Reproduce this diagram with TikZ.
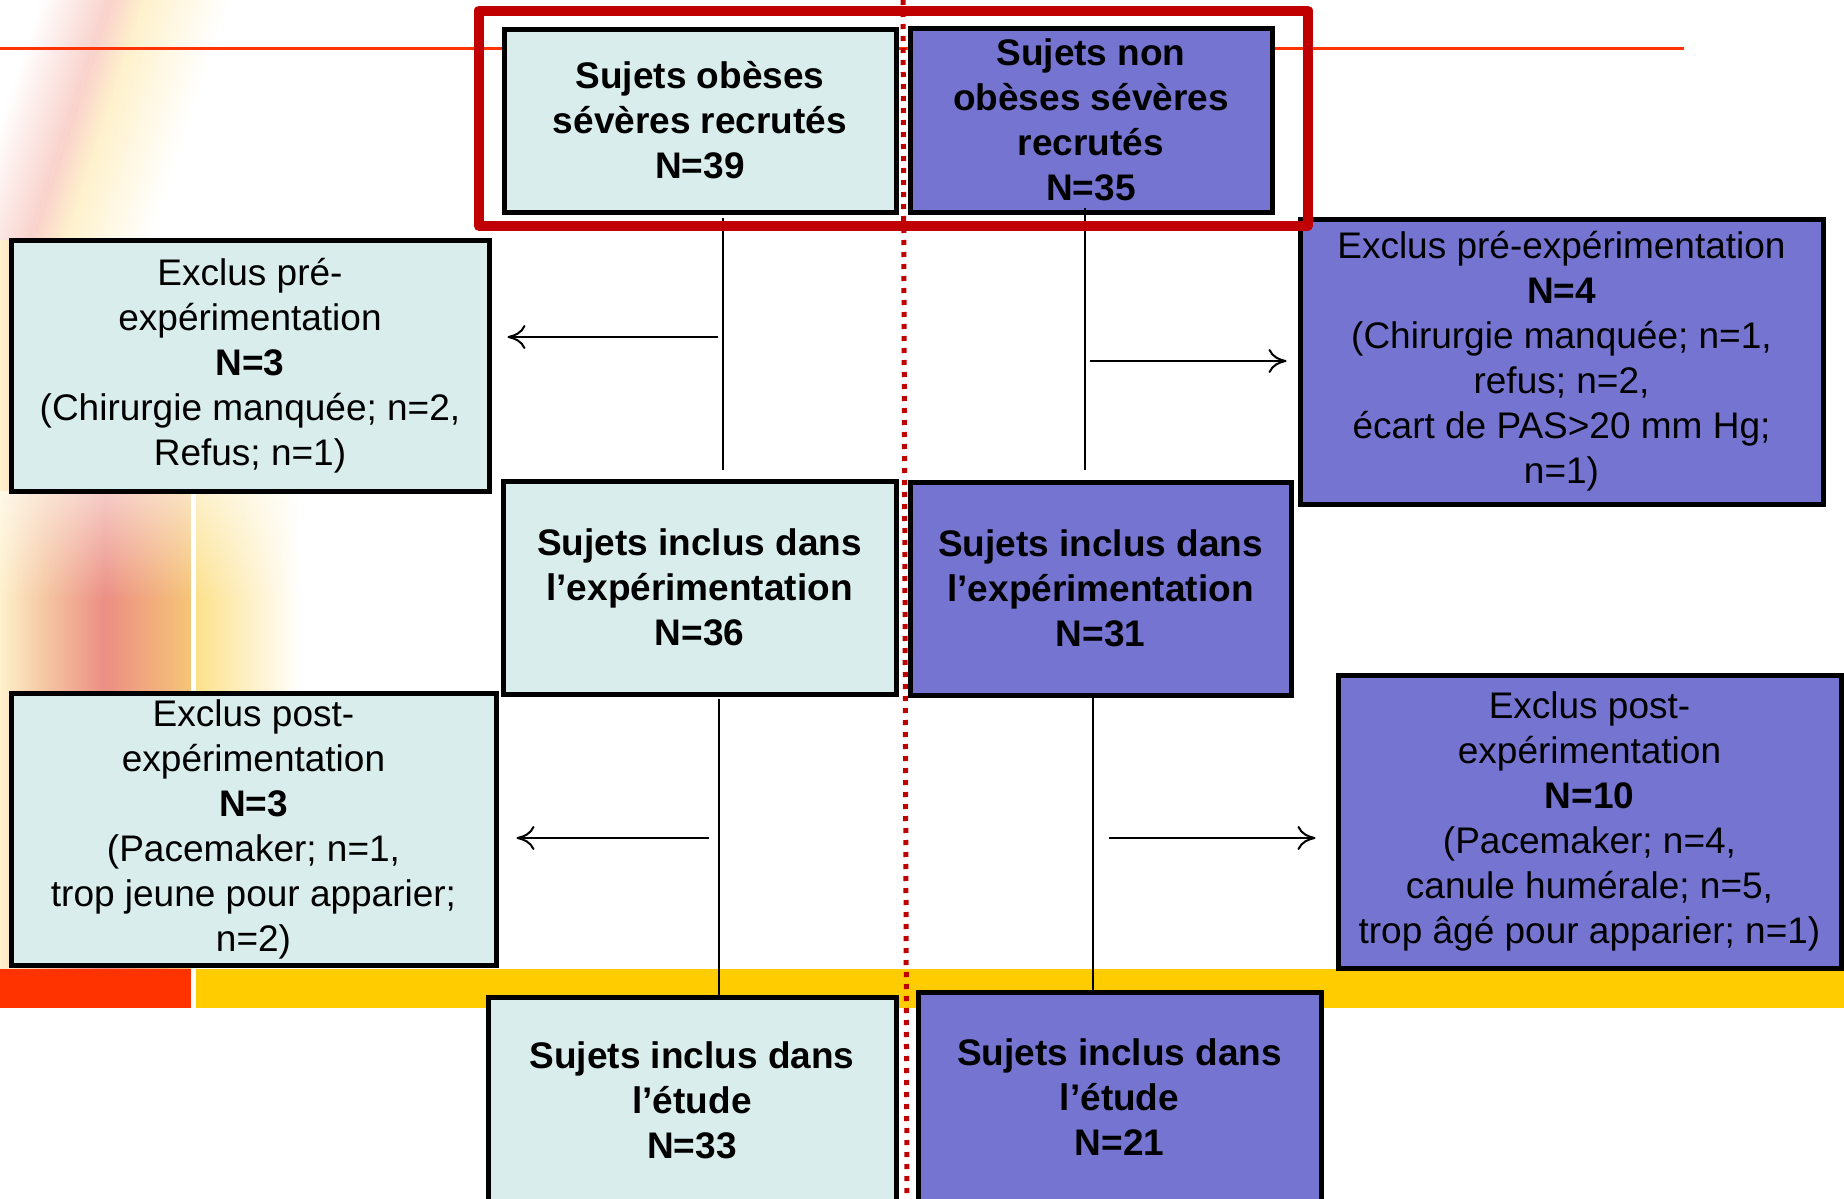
\documentclass[tikz,border=0pt]{standalone}
\usepackage{fontspec}
\setmainfont{Liberation Sans}
\usetikzlibrary{arrows.meta,fadings}

\definecolor{boxblue}{HTML}{DAEDED}
\definecolor{boxviolet}{HTML}{7575D1}
\definecolor{frameRed}{HTML}{C00000}
\definecolor{lineOrange}{HTML}{FF3300}
\definecolor{bandYellow}{HTML}{FFCC00}
\definecolor{bgPink}{HTML}{F9D2CC}
\definecolor{bgCream}{HTML}{FEF1CC}
\definecolor{bgPeach}{HTML}{F5C6A2}
\definecolor{bgSalmon}{HTML}{EC8E84}
\definecolor{bgRose}{HTML}{EDA996}
\definecolor{bgAmber}{HTML}{F6C677}
\definecolor{bgLemon}{HTML}{FCE088}

\tikzfading[name=fadetop, top color=transparent!45, bottom color=transparent!100]

\tikzset{
  flowbox/.style={draw=black, line width=2.5pt, inner sep=0pt, align=center,
    font=\fontsize{18.5}{22.5}\selectfont},
  heavy/.style={font=\fontsize{18.5}{22.5}\selectfont\bfseries},
  obese/.style={flowbox, fill=boxblue},
  lean/.style={flowbox, fill=boxviolet},
  link/.style={line width=0.8pt},
  exclarrow/.style={line width=1pt, -{To[length=9pt,width=12pt]}},
}

\begin{document}
\begin{tikzpicture}[x=0.5pt,y=-0.5pt]
\useasboundingbox (0,0) rectangle (1844,1199);
\clip (0,0) rectangle (1844,1199);

% background on the left
\begin{scope}[transform canvas={xslant=0.33}]
  \shade[left color=white, right color=bgPink] (40,0) rectangle (110,245);
  \shade[left color=bgPink, right color=bgCream] (110,0) rectangle (145,245);
  \shade[left color=bgCream, right color=white] (145,0) rectangle (230,245);
\end{scope}
\shade[left color=bgCream, right color=bgPeach] (0,240) rectangle (45,968);
\shade[left color=bgPeach, right color=bgSalmon] (45,240) rectangle (105,968);
\shade[left color=bgSalmon, middle color=bgRose, right color=bgAmber] (105,240) rectangle (193,968);
\shade[left color=bgLemon, right color=white] (193,491) rectangle (300,693);
\fill[white, path fading=fadetop] (0,491) rectangle (300,600);
\draw[lineOrange, line width=1.5pt] (0,48) -- (1684,48);
\fill[lineOrange] (0,969) rectangle (193,1008);
\fill[bandYellow] (193,969) rectangle (1844,1008);
\draw[white, line width=2.5pt] (193,491) -- (193,1008);

% recruited
\node[obese, heavy, minimum width=196pt, minimum height=91.5pt] (recrA) at (700,120.5)
  {Sujets obèses\\sévères recrutés\\N=39};
\node[lean, heavy, minimum width=181pt, minimum height=92pt] (recrB) at (1091,120)
  {Sujets non\\obèses sévères\\recrutés\\N=35};

% excluded before
\node[obese, minimum width=239pt, minimum height=125.5pt] (exPreA) at (250,365.5)
  {Exclus pré-\\expérimentation\\\textbf{N=3}\\(Chirurgie manquée; n=2,\\Refus; n=1)};
\node[lean, minimum width=261.5pt, minimum height=142.5pt] (exPreB) at (1561.5,361.5)
  {Exclus pré-expérimentation\\\textbf{N=4}\\(Chirurgie manquée; n=1,\\refus; n=2,\\écart de PAS>20 mm Hg;\\n=1)};

% included in the experiment
\node[obese, heavy, minimum width=196.5pt, minimum height=106.5pt] (inclA) at (699.5,587.5)
  {Sujets inclus dans\\l’expérimentation\\N=36};
\node[lean, heavy, minimum width=190.5pt, minimum height=106.5pt] (inclB) at (1100.5,588.5)
  {Sujets inclus dans\\l’expérimentation\\N=31};

% excluded after
\node[obese, minimum width=242.5pt, minimum height=136pt] (exPostA) at (253.5,829)
  {Exclus post-\\expérimentation\\\textbf{N=3}\\(Pacemaker; n=1,\\trop jeune pour apparier;\\n=2)};
\node[lean, minimum width=251.5pt, minimum height=146.5pt] (exPostB) at (1589.5,821.5)
  {Exclus post-\\expérimentation\\\textbf{N=10}\\(Pacemaker; n=4,\\canule humérale; n=5,\\trop âgé pour apparier; n=1)};

% final study
\node[obese, heavy, minimum width=204pt, minimum height=103pt] (etudeA) at (692,1100)
  {Sujets inclus dans\\l’étude\\N=33};
\node[lean, heavy, minimum width=201.5pt, minimum height=105pt] (etudeB) at (1119.5,1097)
  {Sujets inclus dans\\l’étude\\N=21};

% flow lines
\coordinate (axA) at (723,0);
\coordinate (axB) at (1085,0);
\coordinate (axC) at (719,0);
\coordinate (axD) at (1093,0);
\draw[link, shorten <=1.5pt, shorten >=4.5pt] (recrA.south -| axA) -- (inclA.north -| axA);
\draw[link, shorten <=-3.5pt, shorten >=5pt] (recrB.south -| axB) -- (inclB.north -| axB);
\draw[link, shorten <=1pt] (inclA.south -| axC) -- (etudeA.north -| axC);
\draw[link] (inclB.south -| axD) -- (etudeB.north -| axD);

\coordinate (pA) at (718,337);
\coordinate (pB) at (1090,361);
\coordinate (pC) at (709,838);
\coordinate (pD) at (1109,838);
\draw[exclarrow, shorten >=8pt] (pA) -- (pA -| exPreA.east);
\draw[exclarrow, shorten >=5.5pt] (pB) -- (pB -| exPreB.west);
\draw[exclarrow, shorten >=9pt] (pC) -- (pC -| exPostA.east);
\draw[exclarrow, shorten >=10pt] (pD) -- (pD -| exPostB.west);

% grouping frame and separator
\draw[frameRed, line width=5pt, line join=round] (479,10.5) rectangle (1307.5,226);
\draw[frameRed, line width=2.5pt, dash pattern=on 2.5pt off 3.5pt] (903,0) -- (907,1199);
\end{tikzpicture}
\end{document}
